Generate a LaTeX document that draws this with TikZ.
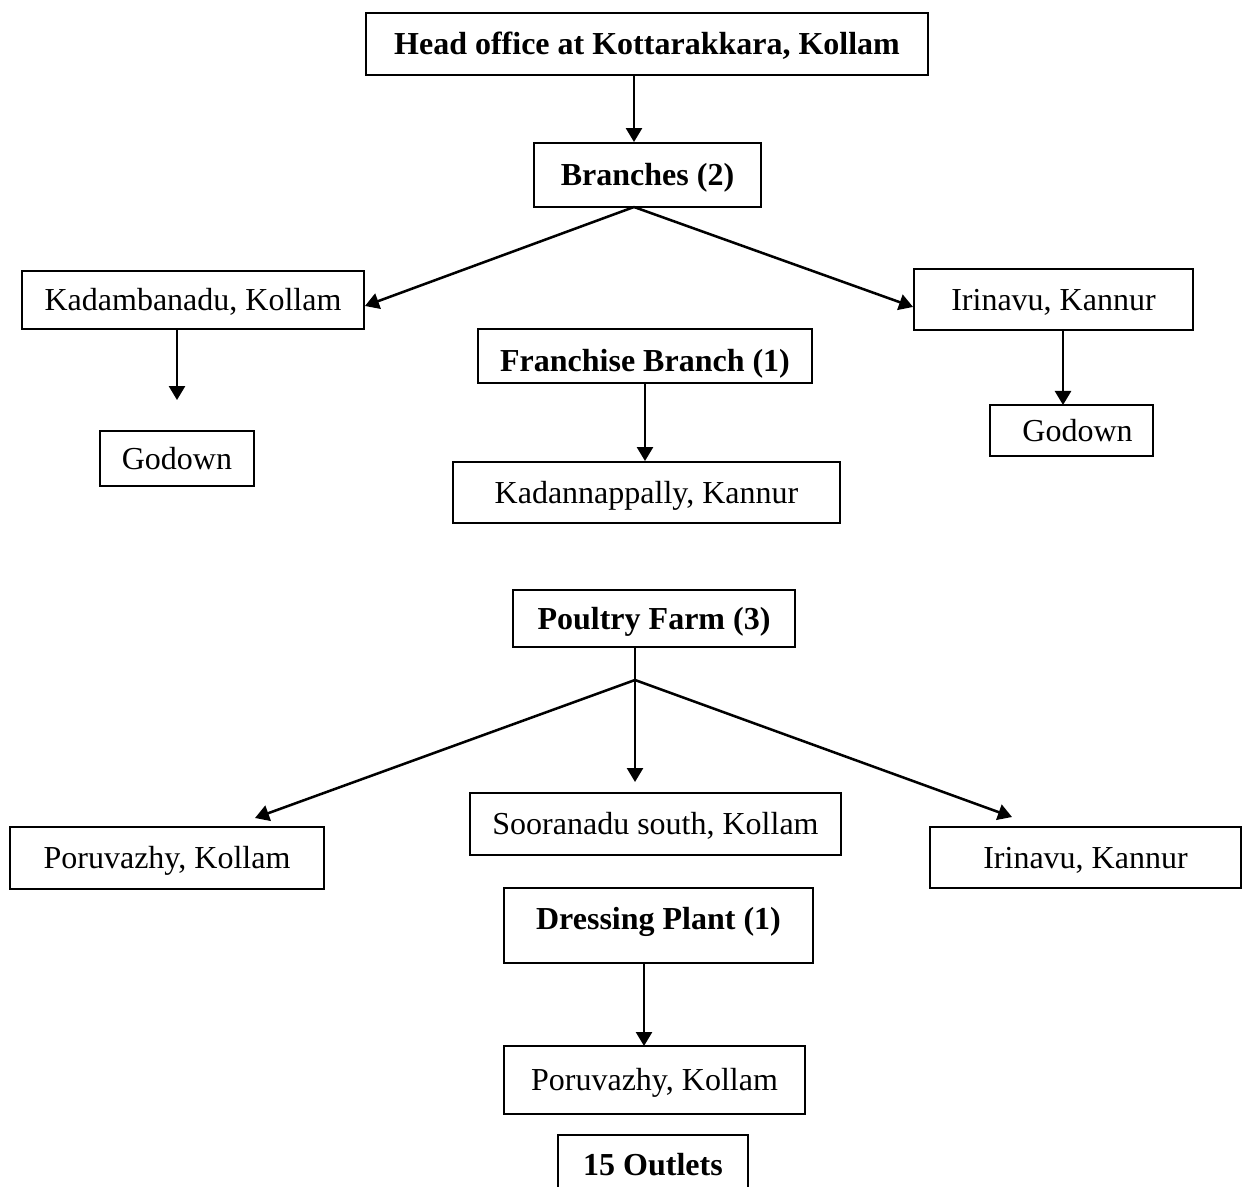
\documentclass[tikz,border=0pt]{standalone}
\usepackage{fontspec}
\setmainfont{Liberation Serif}
\usetikzlibrary{arrows.meta}

\tikzset{
  box/.style={draw, line width=1.4pt, inner sep=0pt, text height=21pt, text depth=5pt,
    font=\fontsize{24}{28}\selectfont},
  boldbox/.style={box, font=\fontsize{24}{28}\selectfont\bfseries},
  arr/.style={line width=1.9pt, -{Triangle[length=10.5pt,width=12pt]}},
  stem/.style={line width=1.9pt},
}

\begin{document}
\begin{tikzpicture}[x=0.75pt,y=0.75pt,yscale=-1,xscale=1]
\useasboundingbox (0,0) rectangle (1242,1187);

% Head office and branches
\node [boldbox, minimum width=421.5pt, minimum height=46.5pt] (head) at (647,44) {Head office at Kottarakkara, Kollam};
\node [boldbox, minimum width=170.25pt, minimum height=48pt] (branches) at (647.5,175) {Branches (2)};
\node [box, minimum width=256.5pt, minimum height=43.5pt] (kadam) at (193,300) {Kadambanadu, Kollam};
\node [box, minimum width=209.25pt, minimum height=45.75pt] (irinA) at (1053.5,299.5) {Irinavu, Kannur};
\node [box, minimum width=115.5pt, minimum height=41.25pt] (godownA) at (177,458.5) {Godown};
\node [box, minimum width=122.25pt, minimum height=38.25pt] (godownB) at (1071.5,430.5) {\hspace{9pt}Godown};

% Franchise
\node [boldbox, minimum width=250.5pt, minimum height=40.5pt, text height=28.5pt] (franchise) at (645,356) {Franchise Branch (1)};
\node [box, minimum width=290.25pt, minimum height=45.75pt] (kadann) at (646.5,492.5) {Kadannappally, Kannur};

% Poultry farms
\node [boldbox, minimum width=211.5pt, minimum height=42.75pt] (poultry) at (654,618.5) {Poultry Farm (3)};
\node [box, minimum width=278.25pt, minimum height=46.5pt] (sooranadu) at (655.5,824) {Sooranadu south, Kollam};
\node [box, minimum width=235.5pt, minimum height=46.5pt] (poruA) at (167,858) {Poruvazhy, Kollam};
\node [box, minimum width=233.25pt, minimum height=45.75pt] (irinB) at (1085.5,857.5) {Irinavu, Kannur};

% Dressing plant and outlets
\node [boldbox, minimum width=231.75pt, minimum height=56.25pt, text depth=14.8pt] (dressing) at (658.5,925.5) {Dressing Plant (1)};
\node [box, minimum width=225.75pt, minimum height=51pt] (poruB) at (654.5,1080) {Poruvazhy, Kollam};
\node [boldbox, minimum width=142.5pt, minimum height=45pt] (outlets) at (653,1165) {15 Outlets};

% Split points and free arrow ends
\coordinate (bsplit) at (634,207);
\coordinate (gtop) at (1063,405);
\coordinate (psplit) at (635,680);
\coordinate (pl) at (255,818);
\coordinate (pm) at (635,782);
\coordinate (pr) at (1012,817);
\coordinate (dtop) at (644,1046);

% Connectors
\draw [arr] (head.south -| bsplit) -- (branches.north -| bsplit);
\draw [arr] (bsplit) -- ([yshift=4.5pt]kadam.east);
\draw [arr] (bsplit) -- ([yshift=5.6pt]irinA.west);
\draw [arr] (kadam.south -| godownA.north) -- ([yshift=-22.5pt]godownA.north);
\draw [arr] (irinA.south -| gtop) -- (gtop);
\draw [arr] (franchise.south) -- (kadann.north -| franchise.south);
\draw [stem] (poultry.south -| psplit) -- (psplit);
\draw [arr] (psplit) -- (pl);
\draw [arr] (psplit) -- (pm);
\draw [arr] (psplit) -- (pr);
\draw [arr] (dressing.south -| dtop) -- (dtop);

\end{tikzpicture}
\end{document}
